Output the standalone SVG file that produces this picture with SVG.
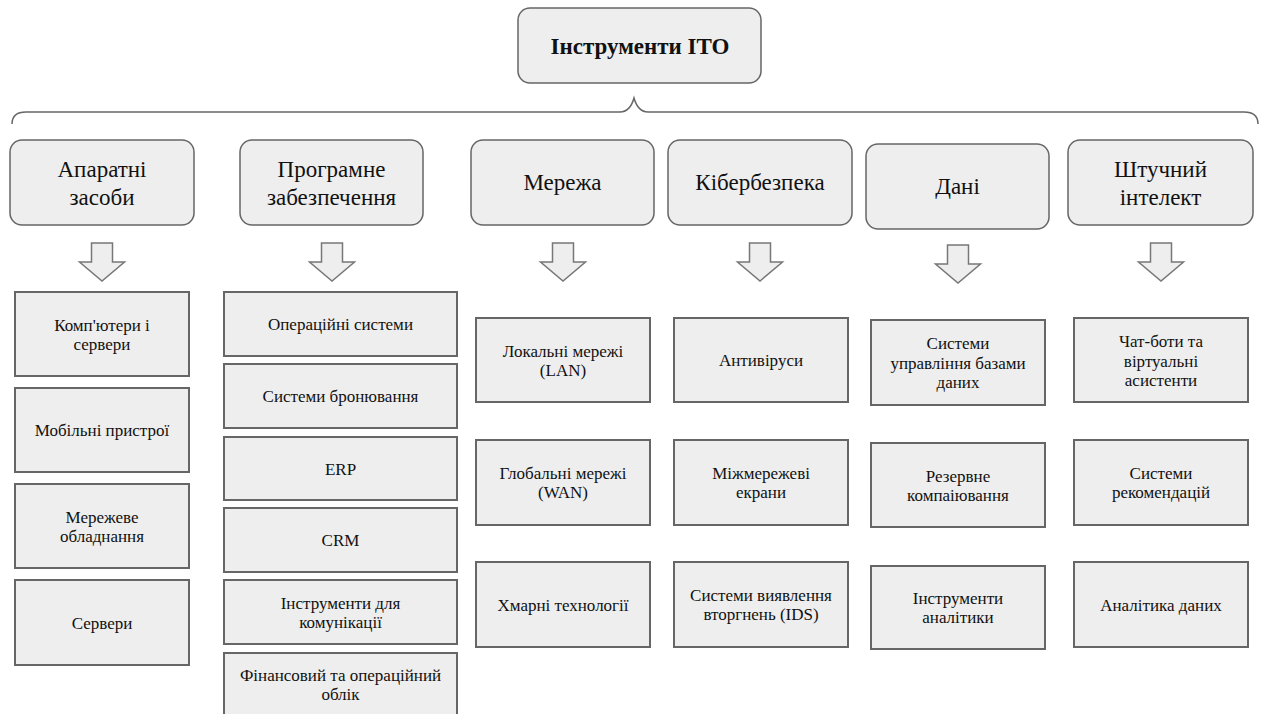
<svg xmlns="http://www.w3.org/2000/svg" width="1264" height="714" viewBox="0 0 1264 714">
<style>
text{fill:#111;text-anchor:middle}
.title{font-size:23px;font-weight:bold}
.cat{font-size:23px}
.leaf{font-size:17px}
.rbox{fill:#eeeeee;stroke:#666;stroke-width:1.5}
.box{fill:#eeeeee;stroke:#666;stroke-width:2}
.arr{fill:#eeeeee;stroke:#777;stroke-width:1.5;stroke-linejoin:miter}
.brace{fill:none;stroke:#666;stroke-width:1.5}
</style>
<rect width="1264" height="714" fill="#fff"/>
<g font-family="Liberation Serif, DejaVu Serif, Noto Serif, serif">
<g id="title">
<rect class="rbox" x="518" y="8" width="243" height="75" rx="12"/>
<text class="title" x="640" y="54">Інструменти ІТО</text>
</g>
<g id="connectors">
<path class="brace" d="M12,124 Q12,112 26,112 L620,112 Q630,112 634,98 Q638,112 648,112 L1244,112 Q1258,112 1258,124"/>
<polygon class="arr" points="91.5,243 112.5,243 112.5,262 124.5,262 102,281 79.5,262 91.5,262"/>
<polygon class="arr" points="321.5,243 342.5,243 342.5,262 354.5,262 332,281 309.5,262 321.5,262"/>
<polygon class="arr" points="552.5,243 573.5,243 573.5,262 585.5,262 563,281 540.5,262 552.5,262"/>
<polygon class="arr" points="749.5,243 770.5,243 770.5,262 782.5,262 760,281 737.5,262 749.5,262"/>
<polygon class="arr" points="947.5,245 968.5,245 968.5,264 980.5,264 958,283 935.5,264 947.5,264"/>
<polygon class="arr" points="1150.5,243 1171.5,243 1171.5,262 1183.5,262 1161,281 1138.5,262 1150.5,262"/>
</g>
<g id="cat-hardware">
<rect class="rbox" x="10" y="140" width="184" height="85" rx="12"/>
<text class="cat" x="102" y="177">Апаратні</text>
<text class="cat" x="102" y="205">засоби</text>
</g>
<g id="cat-software">
<rect class="rbox" x="240" y="140" width="183" height="85" rx="12"/>
<text class="cat" x="331.5" y="177">Програмне</text>
<text class="cat" x="331.5" y="205">забезпечення</text>
</g>
<g id="cat-network">
<rect class="rbox" x="471" y="140" width="183" height="85" rx="12"/>
<text class="cat" x="562.5" y="190">Мережа</text>
</g>
<g id="cat-security">
<rect class="rbox" x="668" y="140" width="184" height="85" rx="12"/>
<text class="cat" x="760" y="190">Кібербезпека</text>
</g>
<g id="cat-data">
<rect class="rbox" x="866" y="144" width="183" height="85" rx="12"/>
<text class="cat" x="957.5" y="194">Дані</text>
</g>
<g id="cat-ai">
<rect class="rbox" x="1068" y="140" width="185" height="85" rx="12"/>
<text class="cat" x="1160.5" y="177">Штучний</text>
<text class="cat" x="1160.5" y="205">інтелект</text>
</g>
<g id="hw1"><rect class="box" x="15" y="292" width="174" height="84"/><text class="leaf" x="102" y="330.5">Комп'ютери і</text><text class="leaf" x="102" y="349.5">сервери</text></g>
<g id="hw2"><rect class="box" x="15" y="388" width="174" height="84"/><text class="leaf" x="102" y="436">Мобільні пристрої</text></g>
<g id="hw3"><rect class="box" x="15" y="484" width="174" height="84"/><text class="leaf" x="102" y="522.5">Мережеве</text><text class="leaf" x="102" y="541.5">обладнання</text></g>
<g id="hw4"><rect class="box" x="15" y="580" width="174" height="85"/><text class="leaf" x="102" y="628.5">Сервери</text></g>
<g id="sw1"><rect class="box" x="224" y="292" width="233" height="64"/><text class="leaf" x="340.5" y="330">Операційні системи</text></g>
<g id="sw2"><rect class="box" x="224" y="364" width="233" height="64"/><text class="leaf" x="340.5" y="402">Системи бронювання</text></g>
<g id="sw3"><rect class="box" x="224" y="437" width="233" height="63"/><text class="leaf" x="340.5" y="474.5">ERP</text></g>
<g id="sw4"><rect class="box" x="224" y="508" width="233" height="64"/><text class="leaf" x="340.5" y="546">CRM</text></g>
<g id="sw5"><rect class="box" x="224" y="580" width="233" height="64"/><text class="leaf" x="340.5" y="608.5">Інструменти для</text><text class="leaf" x="340.5" y="627.5">комунікації</text></g>
<g id="sw6"><rect class="box" x="224" y="653" width="233" height="66"/><text class="leaf" x="340.5" y="680.5">Фінансовий та операційний</text><text class="leaf" x="340.5" y="699.5">облік</text></g>
<g id="net1"><rect class="box" x="476" y="318" width="174" height="84"/><text class="leaf" x="563" y="356.5">Локальні мережі</text><text class="leaf" x="563" y="375.5">(LAN)</text></g>
<g id="net2"><rect class="box" x="476" y="440" width="174" height="85"/><text class="leaf" x="563" y="479">Глобальні мережі</text><text class="leaf" x="563" y="498">(WAN)</text></g>
<g id="net3"><rect class="box" x="476" y="562" width="174" height="85"/><text class="leaf" x="563" y="610.5">Хмарні технології</text></g>
<g id="sec1"><rect class="box" x="674" y="318" width="174" height="84"/><text class="leaf" x="761" y="366">Антивіруси</text></g>
<g id="sec2"><rect class="box" x="674" y="440" width="174" height="85"/><text class="leaf" x="761" y="479">Міжмережеві</text><text class="leaf" x="761" y="498">екрани</text></g>
<g id="sec3"><rect class="box" x="674" y="562" width="174" height="85"/><text class="leaf" x="761" y="601">Системи виявлення</text><text class="leaf" x="761" y="620">вторгнень (IDS)</text></g>
<g id="data1"><rect class="box" x="871" y="320" width="174" height="85"/><text class="leaf" x="958" y="349">Системи</text><text class="leaf" x="958" y="368.5">управління базами</text><text class="leaf" x="958" y="388">даних</text></g>
<g id="data2"><rect class="box" x="871" y="443" width="174" height="84"/><text class="leaf" x="958" y="481.5">Резервне</text><text class="leaf" x="958" y="500.5">компаіювання</text></g>
<g id="data3"><rect class="box" x="871" y="566" width="174" height="83"/><text class="leaf" x="958" y="604">Інструменти</text><text class="leaf" x="958" y="623">аналітики</text></g>
<g id="ai1"><rect class="box" x="1074" y="318" width="174" height="84"/><text class="leaf" x="1161" y="347">Чат-боти та</text><text class="leaf" x="1161" y="366.5">віртуальні</text><text class="leaf" x="1161" y="386">асистенти</text></g>
<g id="ai2"><rect class="box" x="1074" y="440" width="174" height="85"/><text class="leaf" x="1161" y="479">Системи</text><text class="leaf" x="1161" y="498">рекомендацій</text></g>
<g id="ai3"><rect class="box" x="1074" y="562" width="174" height="85"/><text class="leaf" x="1161" y="610.5">Аналітика даних</text></g>
</g>
</svg>
